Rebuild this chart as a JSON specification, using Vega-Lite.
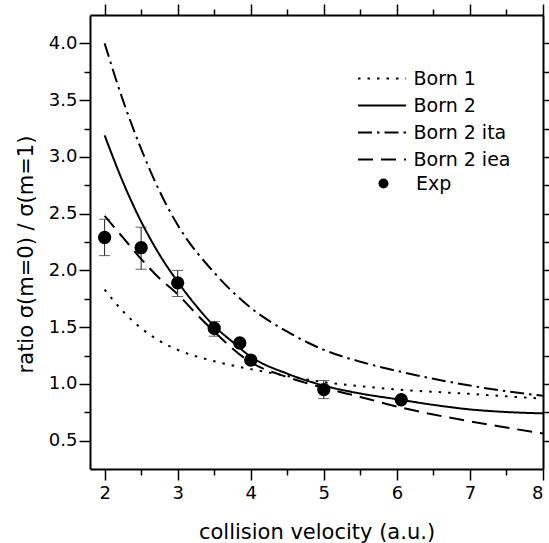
{
  "$schema": "https://vega.github.io/schema/vega-lite/v6.json",
  "width": 453,
  "height": 454,
  "autosize": {"type": "none"},
  "padding": {"left": 90, "top": 15, "right": 6, "bottom": 74},
  "background": "white",
  "config": {
    "view": {"stroke": null},
    "font": "DejaVu Sans",
    "axis": {
      "domainColor": "black", "domainWidth": 2,
      "tickColor": "black", "tickWidth": 1.5,
      "labelColor": "black", "labelFont": "DejaVu Sans", "labelFontSize": 18,
      "titleFont": "DejaVu Sans", "titleFontSize": 21, "titleFontWeight": "normal", "titleColor": "black",
      "grid": false
    },
    "legend": {
      "labelFont": "DejaVu Sans", "labelFontSize": 19, "labelColor": "black",
      "padding": 0, "symbolStrokeColor": "black", "symbolStrokeWidth": 2
    }
  },
  "datasets": {
    "curves": [
      {"series": "Born 1", "x": 2.0, "y": 1.83}, {"series": "Born 1", "x": 2.25, "y": 1.64}, {"series": "Born 1", "x": 2.5, "y": 1.49}, {"series": "Born 1", "x": 2.75, "y": 1.38}, {"series": "Born 1", "x": 3.0, "y": 1.30}, {"series": "Born 1", "x": 3.5, "y": 1.20}, {"series": "Born 1", "x": 4.0, "y": 1.13}, {"series": "Born 1", "x": 4.5, "y": 1.07}, {"series": "Born 1", "x": 5.0, "y": 1.015}, {"series": "Born 1", "x": 5.5, "y": 0.98}, {"series": "Born 1", "x": 6.0, "y": 0.95}, {"series": "Born 1", "x": 6.5, "y": 0.93}, {"series": "Born 1", "x": 7.0, "y": 0.912}, {"series": "Born 1", "x": 7.5, "y": 0.89}, {"series": "Born 1", "x": 8.0, "y": 0.87},
      {"series": "Born 2", "x": 2.0, "y": 3.19}, {"series": "Born 2", "x": 2.25, "y": 2.78}, {"series": "Born 2", "x": 2.5, "y": 2.43}, {"series": "Born 2", "x": 2.75, "y": 2.14}, {"series": "Born 2", "x": 3.0, "y": 1.90}, {"series": "Born 2", "x": 3.25, "y": 1.69}, {"series": "Born 2", "x": 3.5, "y": 1.51}, {"series": "Born 2", "x": 3.75, "y": 1.37}, {"series": "Born 2", "x": 4.0, "y": 1.24}, {"series": "Born 2", "x": 4.5, "y": 1.09}, {"series": "Born 2", "x": 5.0, "y": 0.985}, {"series": "Born 2", "x": 5.5, "y": 0.915}, {"series": "Born 2", "x": 6.0, "y": 0.865}, {"series": "Born 2", "x": 6.5, "y": 0.815}, {"series": "Born 2", "x": 7.0, "y": 0.775}, {"series": "Born 2", "x": 7.5, "y": 0.752}, {"series": "Born 2", "x": 8.0, "y": 0.74},
      {"series": "Born 2 ita", "x": 2.0, "y": 4.0}, {"series": "Born 2 ita", "x": 2.25, "y": 3.5}, {"series": "Born 2 ita", "x": 2.5, "y": 3.07}, {"series": "Born 2 ita", "x": 2.75, "y": 2.70}, {"series": "Born 2 ita", "x": 3.0, "y": 2.40}, {"series": "Born 2 ita", "x": 3.5, "y": 1.98}, {"series": "Born 2 ita", "x": 4.0, "y": 1.67}, {"series": "Born 2 ita", "x": 4.5, "y": 1.46}, {"series": "Born 2 ita", "x": 5.0, "y": 1.30}, {"series": "Born 2 ita", "x": 5.5, "y": 1.195}, {"series": "Born 2 ita", "x": 6.0, "y": 1.115}, {"series": "Born 2 ita", "x": 6.5, "y": 1.045}, {"series": "Born 2 ita", "x": 7.0, "y": 0.985}, {"series": "Born 2 ita", "x": 7.5, "y": 0.935}, {"series": "Born 2 ita", "x": 8.0, "y": 0.895},
      {"series": "Born 2 iea", "x": 2.0, "y": 2.48}, {"series": "Born 2 iea", "x": 2.25, "y": 2.29}, {"series": "Born 2 iea", "x": 2.5, "y": 2.10}, {"series": "Born 2 iea", "x": 2.75, "y": 1.93}, {"series": "Born 2 iea", "x": 3.0, "y": 1.79}, {"series": "Born 2 iea", "x": 3.25, "y": 1.62}, {"series": "Born 2 iea", "x": 3.5, "y": 1.46}, {"series": "Born 2 iea", "x": 4.0, "y": 1.19}, {"series": "Born 2 iea", "x": 4.5, "y": 1.06}, {"series": "Born 2 iea", "x": 5.0, "y": 0.965}, {"series": "Born 2 iea", "x": 5.5, "y": 0.885}, {"series": "Born 2 iea", "x": 6.0, "y": 0.80}, {"series": "Born 2 iea", "x": 6.5, "y": 0.73}, {"series": "Born 2 iea", "x": 7.0, "y": 0.67}, {"series": "Born 2 iea", "x": 7.5, "y": 0.615}, {"series": "Born 2 iea", "x": 8.0, "y": 0.562}
    ],
    "exp": [
      {"series": "Exp", "x": 2.0, "y": 2.29, "lo": 2.13, "hi": 2.45},
      {"series": "Exp", "x": 2.5, "y": 2.20, "lo": 2.01, "hi": 2.38},
      {"series": "Exp", "x": 3.0, "y": 1.89, "lo": 1.77, "hi": 2.00},
      {"series": "Exp", "x": 3.5, "y": 1.49, "lo": 1.42, "hi": 1.55},
      {"series": "Exp", "x": 3.85, "y": 1.36, "lo": null, "hi": null},
      {"series": "Exp", "x": 4.0, "y": 1.21, "lo": null, "hi": null},
      {"series": "Exp", "x": 5.0, "y": 0.95, "lo": 0.87, "hi": 1.03},
      {"series": "Exp", "x": 6.06, "y": 0.86, "lo": null, "hi": null}
    ]
  },
  "resolve": {"axis": {"x": "independent", "y": "independent"}},
  "layer": [
    {
      "data": {"name": "curves"},
      "mark": {"type": "line", "color": "black", "strokeWidth": 2, "interpolate": "monotone"},
      "encoding": {
        "x": {"field": "x", "type": "quantitative",
          "scale": {"domain": [1.8, 8], "nice": false, "zero": false},
          "axis": {"orient": "bottom", "values": [2, 3, 4, 5, 6, 7, 8], "tickSize": 11, "labelPadding": 4,
            "encode": {"ticks": {"update": {"y2": {"value": -11}}}},
            "title": "collision velocity (a.u.)", "titleBaseline": "alphabetic", "titleX": 226.5, "titleY": 69}},
        "y": {"field": "y", "type": "quantitative",
          "scale": {"domain": [0.25, 4.25], "nice": false, "zero": false},
          "axis": {"orient": "left", "values": [0.5, 1, 1.5, 2, 2.5, 3, 3.5, 4], "format": ".1f", "tickSize": 11, "labelPadding": 2,
            "encode": {"ticks": {"update": {"x2": {"value": 11}}}},
            "title": "ratio σ(m=0) / σ(m=1)", "titleBaseline": "alphabetic", "titleX": -58, "titleY": 239}},
        "strokeDash": {"field": "series", "type": "nominal",
          "scale": {"domain": ["Born 1", "Born 2", "Born 2 ita", "Born 2 iea"],
                    "range": [[2.5, 7], [1, 0], [14, 5, 2.5, 5], [15, 8]]},
          "legend": {"title": null, "orient": "none", "legendX": 268, "legendY": 54, "symbolType": "M-4,0L4,0",
                     "symbolSize": 144, "symbolOffset": 14.5, "labelOffset": 22, "rowPadding": 7}}
      }
    },
    {
      "data": {"name": "exp"},
      "transform": [{"filter": "isValid(datum.lo)"}],
      "mark": {"type": "rule", "color": "#222", "strokeWidth": 1},
      "encoding": {
        "x": {"field": "x", "type": "quantitative", "scale": {"domain": [1.8, 8], "nice": false, "zero": false},
          "axis": {"orient": "bottom", "values": [2.5, 3.5, 4.5, 5.5, 6.5, 7.5], "tickSize": 6, "labels": false, "domain": false, "title": null,
            "encode": {"ticks": {"update": {"y2": {"value": -6}}}}}},
        "y": {"field": "lo", "type": "quantitative", "scale": {"domain": [0.25, 4.25], "nice": false, "zero": false},
          "axis": {"orient": "left", "values": [0.75, 1.25, 1.75, 2.25, 2.75, 3.25, 3.75], "tickSize": 6, "labels": false, "domain": false, "title": null,
            "encode": {"ticks": {"update": {"x2": {"value": 6}}}}}},
        "y2": {"field": "hi"}
      }
    },
    {
      "data": {"name": "exp"},
      "transform": [{"filter": "isValid(datum.lo)"}, {"fold": ["lo", "hi"], "as": ["k", "v"]}],
      "mark": {"type": "tick", "color": "#222", "orient": "horizontal", "size": 11, "thickness": 1},
      "encoding": {
        "x": {"field": "x", "type": "quantitative", "scale": {"domain": [1.8, 8], "nice": false, "zero": false},
          "axis": {"orient": "top", "values": [2.5, 3.5, 4.5, 5.5, 6.5, 7.5], "tickSize": 6, "labels": false, "domain": false, "title": null,
            "encode": {"ticks": {"update": {"y2": {"value": 6}}}}}},
        "y": {"field": "v", "type": "quantitative", "scale": {"domain": [0.25, 4.25], "nice": false, "zero": false},
          "axis": {"orient": "right", "values": [0.75, 1.25, 1.75, 2.25, 2.75, 3.25, 3.75], "tickSize": 6, "labels": false, "domain": false, "title": null,
            "encode": {"ticks": {"update": {"x2": {"value": -6}}}}}}
      }
    },
    {
      "data": {"name": "exp"},
      "mark": {"type": "point", "filled": true, "color": "black", "opacity": 1, "size": 177},
      "encoding": {
        "x": {"field": "x", "type": "quantitative", "scale": {"domain": [1.8, 8], "nice": false, "zero": false},
          "axis": {"orient": "top", "values": [2, 3, 4, 5, 6, 7, 8], "tickSize": 11, "labels": false, "title": null,
            "encode": {"ticks": {"update": {"y2": {"value": 11}}}}}},
        "y": {"field": "y", "type": "quantitative", "scale": {"domain": [0.25, 4.25], "nice": false, "zero": false},
          "axis": {"orient": "right", "values": [0.5, 1, 1.5, 2, 2.5, 3, 3.5, 4], "tickSize": 11, "labels": false, "title": null,
            "encode": {"ticks": {"update": {"x2": {"value": -11}}}}}},
        "shape": {"field": "series", "type": "nominal",
          "scale": {"domain": ["Exp"], "range": ["circle"]},
          "legend": {"title": null, "orient": "none", "legendX": 284, "legendY": 159, "labelOffset": 23,
                     "symbolFillColor": "black", "symbolStrokeWidth": 0}}
      }
    }
  ]
}
